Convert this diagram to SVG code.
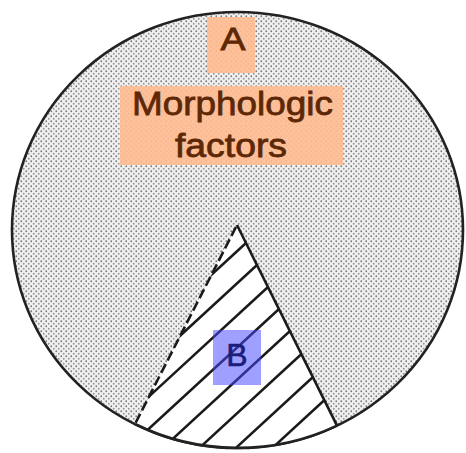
<svg xmlns="http://www.w3.org/2000/svg" width="466" height="453" viewBox="0 0 466 453">
  <style>
    .outline { fill: url(#stipple); stroke: #222; stroke-width: 2.6; }
    .hatch { stroke: #1a1a1a; stroke-width: 2.5; fill: none; }
    .edge { stroke: #1a1a1a; stroke-width: 2.6; fill: none; }
    .orange { fill: #ffbb90; fill-opacity: 0.9; }
    .blue { fill: rgb(70,70,255); fill-opacity: 0.52; }
    .lblA { font-family: "Liberation Sans", Arial, sans-serif; fill: #5e2806; stroke: #5e2806; stroke-width: 0.8; text-anchor: middle; }
    .lblB { font-family: "Liberation Sans", Arial, sans-serif; fill: #1c1c7a; stroke: #1c1c7a; stroke-width: 0.6; text-anchor: middle; }
  </style>
  <defs>
    <pattern id="stipple" width="5" height="5" patternUnits="userSpaceOnUse">
      <rect width="5" height="5" fill="#f0f0f0"/>
      <circle cx="1.25" cy="1.25" r="0.9" fill="#7a7a7a"/>
      <circle cx="3.75" cy="3.75" r="0.9" fill="#959595"/>
    </pattern>
    <clipPath id="wedgeClip">
      <path d="M237,225 L337,425.6 A225.5,218 0 0 1 135,424 Z"/>
    </clipPath>
  </defs>

  <rect width="466" height="453" fill="#ffffff"/>

  <g id="circle-A">
    <ellipse class="outline" cx="237.5" cy="230" rx="225.5" ry="218"/>
  </g>

  <g id="wedge-B">
    <path d="M237,225 L337,425.6 A225.5,218 0 0 1 135,424 Z" fill="#ffffff"/>
    <g clip-path="url(#wedgeClip)" class="hatch">
      <line x1="246" y1="243" x2="100" y2="377.3"/>
      <line x1="257" y1="265" x2="100" y2="409.4"/>
      <line x1="268" y1="287" x2="100" y2="441.6"/>
      <line x1="279" y1="309" x2="100" y2="473.7"/>
      <line x1="290" y1="331" x2="100" y2="505.8"/>
      <line x1="301.5" y1="354" x2="100" y2="539.4"/>
      <line x1="313" y1="377" x2="100" y2="573"/>
      <line x1="324.5" y1="400" x2="100" y2="606.5"/>
    </g>
    <line class="edge" x1="237" y1="225" x2="337" y2="425.6"/>
    <line class="edge" x1="236" y1="227" x2="135" y2="424" stroke-dasharray="10 4"/>
    <path d="M337,425.6 A225.5,218 0 0 1 135,424" fill="none" stroke="#222" stroke-width="2.6"/>
  </g>

  <g id="label-A">
    <rect class="orange" x="207" y="17" width="48" height="56"/>
    <text class="lblA" x="233" y="50" font-size="32" textLength="25" lengthAdjust="spacingAndGlyphs">A</text>
  </g>

  <g id="label-morphologic">
    <rect class="orange" x="120" y="86" width="223" height="79"/>
    <text class="lblA" x="232.5" y="115" font-size="34" textLength="201" lengthAdjust="spacingAndGlyphs">Morphologic</text>
    <text class="lblA" x="231" y="157" font-size="34" textLength="112" lengthAdjust="spacingAndGlyphs">factors</text>
  </g>

  <g id="label-B">
    <rect class="blue" x="213" y="330" width="48" height="55"/>
    <text class="lblB" x="237" y="366" font-size="32">B</text>
  </g>
</svg>
